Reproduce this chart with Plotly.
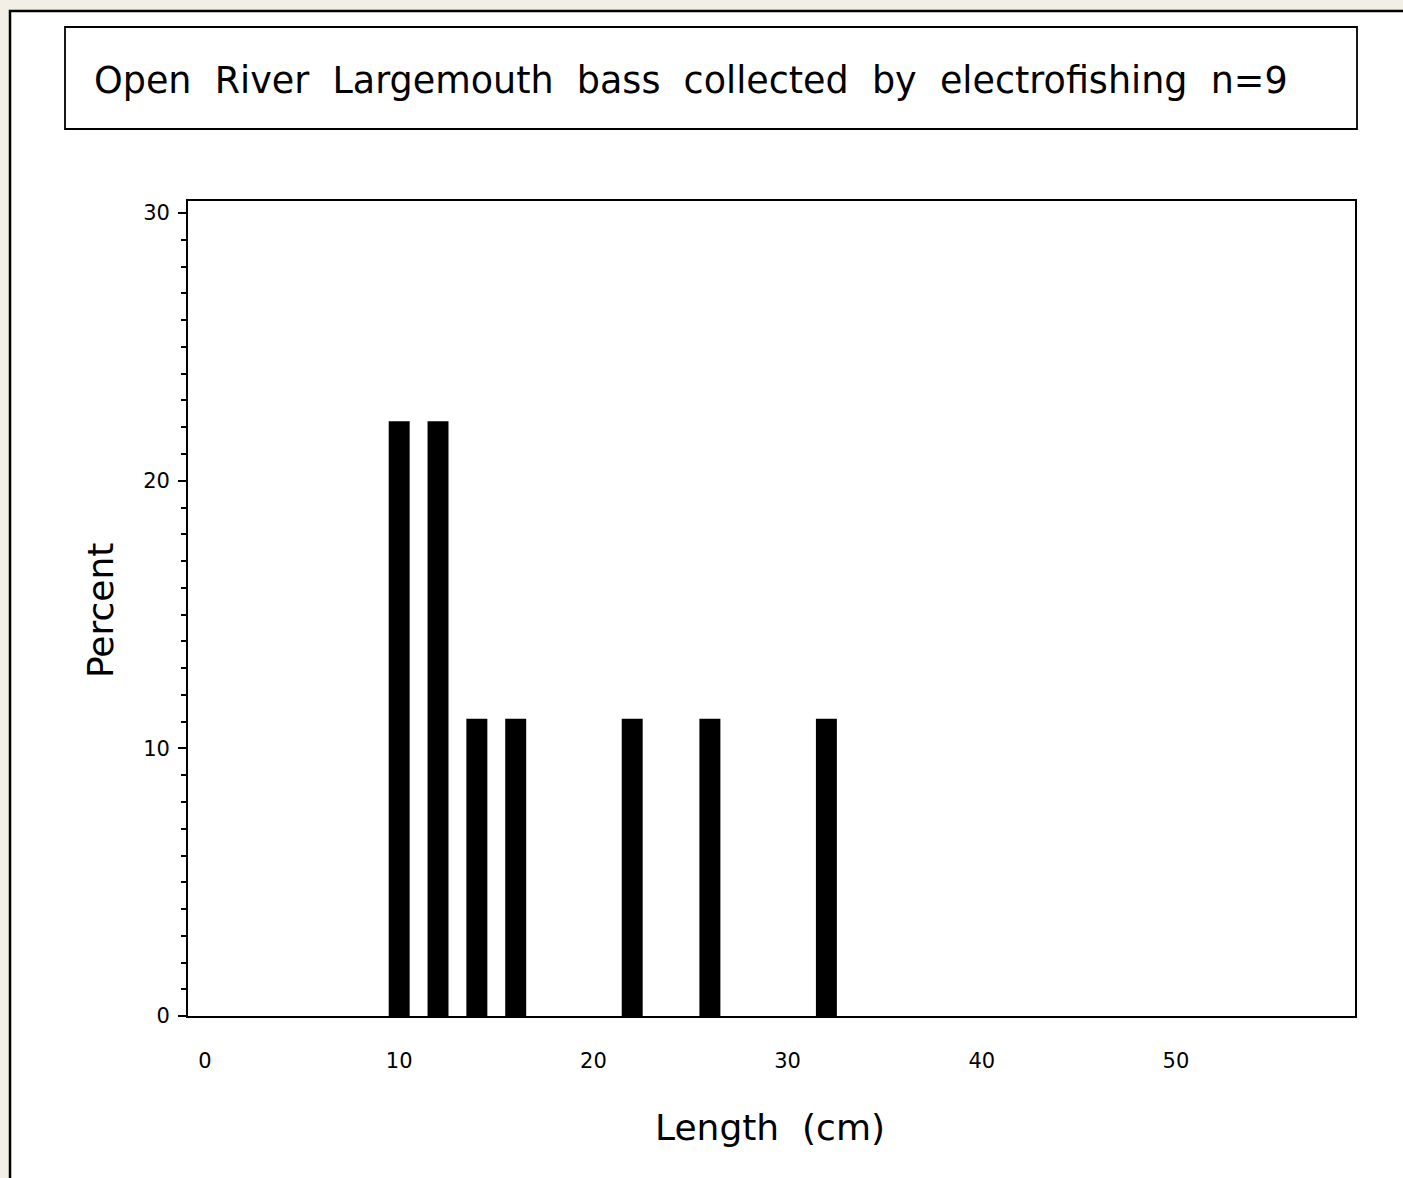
import plotly.graph_objects as go

lengths = [10, 12, 14, 16, 22, 26, 32]
percents = [22.22, 22.22, 11.11, 11.11, 11.11, 11.11, 11.11]
x_ticks = [0, 10, 20, 30, 40, 50]
y_ticks = [0, 10, 20, 30]
title_text = "Open  River  Largemouth  bass  collected  by  electrofishing  n=9"
x_title = "Length  (cm)"
y_title = "Percent"

W, H = 1403, 1178
K = 1.0104  # vertical compensation observed in the rendered picture
def px(x): return x / W
def py(y): return 1 - (y * K) / H

fig = go.Figure()
fig.add_trace(go.Bar(x=lengths, y=percents, width=1.08,
                     marker=dict(color="black", line=dict(width=0))))

font_family = "DejaVu Sans, Verdana, sans-serif"

fig.update_layout(
    width=W, height=H,
    margin=dict(l=0, r=0, t=0, b=0),
    paper_bgcolor="#f3efe7",
    plot_bgcolor="white",
    showlegend=False,
    font=dict(family=font_family, color="black"),
    xaxis=dict(
        domain=[px(188), px(1355)],
        range=[-0.875, 59.22],
        tickvals=x_ticks, ticks="", showgrid=False, zeroline=False,
        showline=True, mirror=True, linecolor="black", linewidth=1.8,
        tickfont=dict(size=21), ticklabelstandoff=25,
    ),
    yaxis=dict(
        domain=[py(1016), py(201)],
        range=[0, 30.45],
        tickvals=y_ticks, ticks="outside", ticklen=8, tickwidth=1.8, tickcolor="black",
        minor=dict(dtick=1, ticks="outside", ticklen=5, tickwidth=1.5, tickcolor="black"),
        showgrid=False, zeroline=False,
        showline=True, mirror=True, linecolor="black", linewidth=1.8,
        tickfont=dict(size=21), ticklabelstandoff=4,
    ),
    shapes=[
        dict(type="rect", xref="paper", yref="paper", layer="below",
             x0=px(10), x1=px(1420), y0=-0.05, y1=py(11),
             fillcolor="white", line=dict(color="black", width=2.5)),
        dict(type="rect", xref="paper", yref="paper",
             x0=px(65), x1=px(1357), y0=py(129), y1=py(27),
             fillcolor="rgba(0,0,0,0)", line=dict(color="black", width=1.8)),
    ],
    annotations=[
        dict(text=title_text, xref="paper", yref="paper",
             x=px(92), y=py(80), xanchor="left", yanchor="middle",
             showarrow=False, font=dict(size=36.5, family=font_family)),
        dict(text=x_title, xref="paper", yref="paper",
             x=px(770), y=py(1127), xanchor="center", yanchor="middle",
             showarrow=False, font=dict(size=36, family=font_family)),
        dict(text=y_title, xref="paper", yref="paper", textangle=-90,
             x=px(100), y=py(611), xanchor="center", yanchor="middle",
             showarrow=False, font=dict(size=36, family=font_family)),
    ],
)

post = (
    "document.body.style.margin='0px';"
    "document.body.style.padding='0px';"
)
fig.write_html("out.html", post_script=post, config={"displayModeBar": False})
